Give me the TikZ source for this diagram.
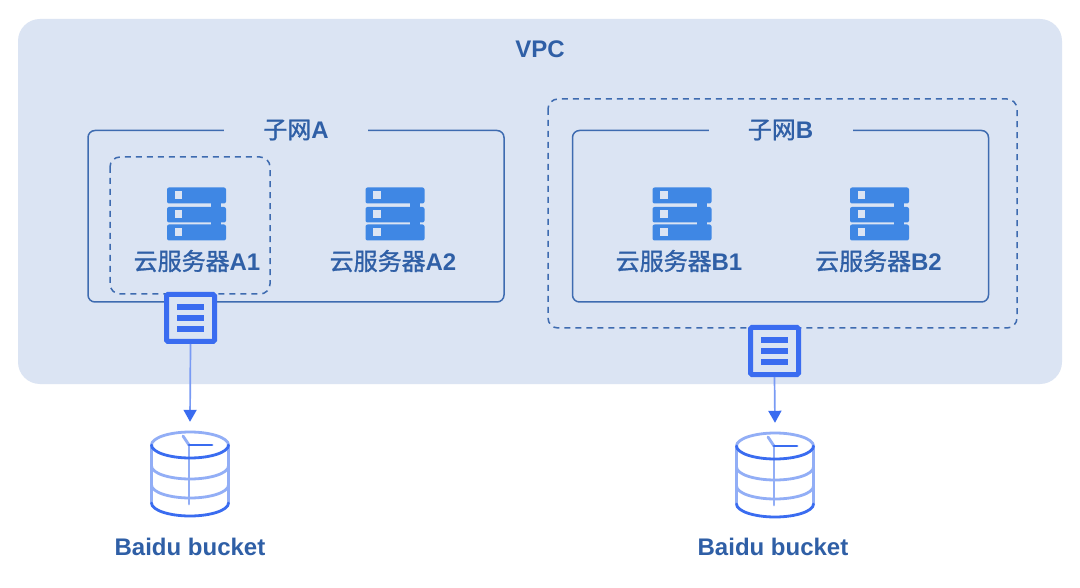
\documentclass[tikz,border=0pt]{standalone}
\usepackage{fontspec}
\setmainfont{Liberation Sans}
\newfontfamily\cjk[BoldFont={Noto Sans CJK SC},BoldFeatures={FakeBold=1.2}]{Noto Sans CJK SC}
\usetikzlibrary{arrows.meta}
\definecolor{vpcfill}{HTML}{DBE4F3}
\definecolor{frameblue}{HTML}{3E6BB0}
\definecolor{textblue}{HTML}{2F5FA6}
\definecolor{serverblue}{HTML}{3F87E4}
\definecolor{iconblue}{HTML}{3A6CF0}
\definecolor{iconlight}{HTML}{92AEF6}
\tikzset{
  x=1pt,y=-1pt,
  vpcbox/.style={fill=vpcfill,draw=none,rounded corners=22pt},
  subnetbox/.style={draw=frameblue,line width=1.5pt,rounded corners=7pt},
  dashbox/.style={draw=frameblue,line width=1.5pt,rounded corners=10pt,dash pattern=on 6pt off 5pt},
  gaplabel/.style={fill=vpcfill,text=textblue,inner xsep=0pt,inner ysep=2pt,minimum width=144pt,font=\fontsize{24}{28}\selectfont\bfseries},
  lbl/.style={text=textblue,inner sep=0pt,font=\fontsize{24}{28}\selectfont\bfseries},
  srvlabel/.style={text=textblue,inner sep=0pt,font=\fontsize{24}{28}\selectfont\bfseries},
  fileicon/.style={draw=iconblue,fill=vpcfill,line width=5pt,rounded corners=1.5pt,minimum width=48pt,minimum height=47pt,inner sep=0pt},
  bucketicon/.style={inner sep=0pt,minimum width=78pt,minimum height=104pt},
  flow/.style={draw=iconlight!70!iconblue,line width=1.7pt,-{Triangle[length=12pt,width=13pt,color=iconblue]}},
  srvanchor/.style={inner sep=0pt,minimum width=59pt,minimum height=53pt},
  blight/.style={iconlight,line width=2.8pt},
  bdark/.style={iconblue,line width=2.8pt,line cap=round},
}
\newcommand{\serverrows}[1]{%
  \begin{scope}[shift={(#1)}]
    \fill[serverblue,rounded corners=2pt] (-30,-27) rectangle (29,-11);
    \fill[serverblue,rounded corners=2pt] (-30,-7.5) rectangle (29,8);
    \fill[serverblue,rounded corners=2pt] (-30,10) rectangle (29,26);
    \fill[serverblue] (14,-12) rectangle (24,-7);
    \fill[serverblue] (14,7) rectangle (24,11);
    \fill[vpcfill] (-22.5,-23) rectangle (-15,-15.5);
    \fill[vpcfill] (-22.5,-4) rectangle (-15,3.5);
    \fill[vpcfill] (-22.5,14) rectangle (-15,21.5);
  \end{scope}}
\newcommand{\filebars}[1]{%
  \begin{scope}[shift={(#1)}]
    \fill[iconblue] (-13.5,-14) rectangle (13.5,-8);
    \fill[iconblue] (-13.5,-3) rectangle (13.5,3);
    \fill[iconblue] (-13.5,8) rectangle (13.5,14);
  \end{scope}}
% half ellipse: style, centre y, +13 for lower half, -13 for upper half
\newcommand{\halfell}[3]{%
  \draw[#1] (-38.5,#2) .. controls (-38.5,{#2+0.55*(#3)}) and (-21,{#2+#3}) .. (0,{#2+#3})
     .. controls (21,{#2+#3}) and (38.5,{#2+0.55*(#3)}) .. (38.5,#2);}
\newcommand{\bucketlines}[1]{%
  \begin{scope}[shift={(#1)}]
    \draw[blight] (-38.5,-29) -- (-38.5,29);
    \draw[blight] (38.5,-29) -- (38.5,29);
    \halfell{blight}{-8}{13}
    \halfell{blight}{11}{13}
    \draw[blight,line cap=round] (-1,-29) -- (-1,30);
    \draw[blight,line cap=round] (-7,-38) -- (-1,-29);
    \halfell{blight}{-29}{-13}
    \halfell{bdark}{-29}{13}
    \halfell{bdark}{29}{13}
    \draw[bdark] (-1,-29) -- (22,-29);
  \end{scope}}
\begin{document}
\begin{tikzpicture}
\useasboundingbox (0,0) rectangle (1080,588);
\fill[white] (0,0) rectangle (1080,588);
\path[vpcbox] (18,19) rectangle (1062,384);
\node[lbl] (vpc) at (540,49) {VPC};

% subnet A
\path[subnetbox] (88,130.5) rectangle (504,302);
\node[gaplabel] (subA) at (296,130) {{\cjk 子网}A};
\path[dashbox] (110,157) rectangle (270,294);
\node[srvanchor] (srvA1) at (197,214) {};
\serverrows{197,214.5}
\node[srvanchor] (srvA2) at (395,214) {};
\serverrows{395.5,214.5}
\node[srvlabel] (lblA1) at (197,261) {{\cjk 云服务器}A1};
\node[srvlabel] (lblA2) at (393,261) {{\cjk 云服务器}A2};

% subnet B
\path[dashbox] (548,99) rectangle (1017,328);
\path[subnetbox] (572.5,130.5) rectangle (988.5,302);
\node[gaplabel] (subB) at (780.5,130) {{\cjk 子网}B};
\node[srvanchor] (srvB1) at (682,214) {};
\serverrows{682.5,214.5}
\node[srvanchor] (srvB2) at (880,214) {};
\serverrows{880,214.5}
\node[srvlabel] (lblB1) at (679,261) {{\cjk 云服务器}B1};
\node[srvlabel] (lblB2) at (878.5,261) {{\cjk 云服务器}B2};

% route tables
\node[fileicon] (fileA) at (190.5,318) {};
\filebars{190.5,318}
\node[fileicon] (fileB) at (774.5,351) {};
\filebars{774.5,351}

% buckets
\node[bucketicon] (bucketA) at (190,474) {};
\bucketlines{190,474}
\node[bucketicon] (bucketB) at (775,475) {};
\bucketlines{775,475}
\node[lbl] (nameA) at (190,547) {Baidu bucket};
\node[lbl] (nameB) at (773,547) {Baidu bucket};

\draw[flow] (fileA.south) -- (bucketA.north);
\draw[flow] (fileB.south) -- (bucketB.north);
\end{tikzpicture}
\end{document}
